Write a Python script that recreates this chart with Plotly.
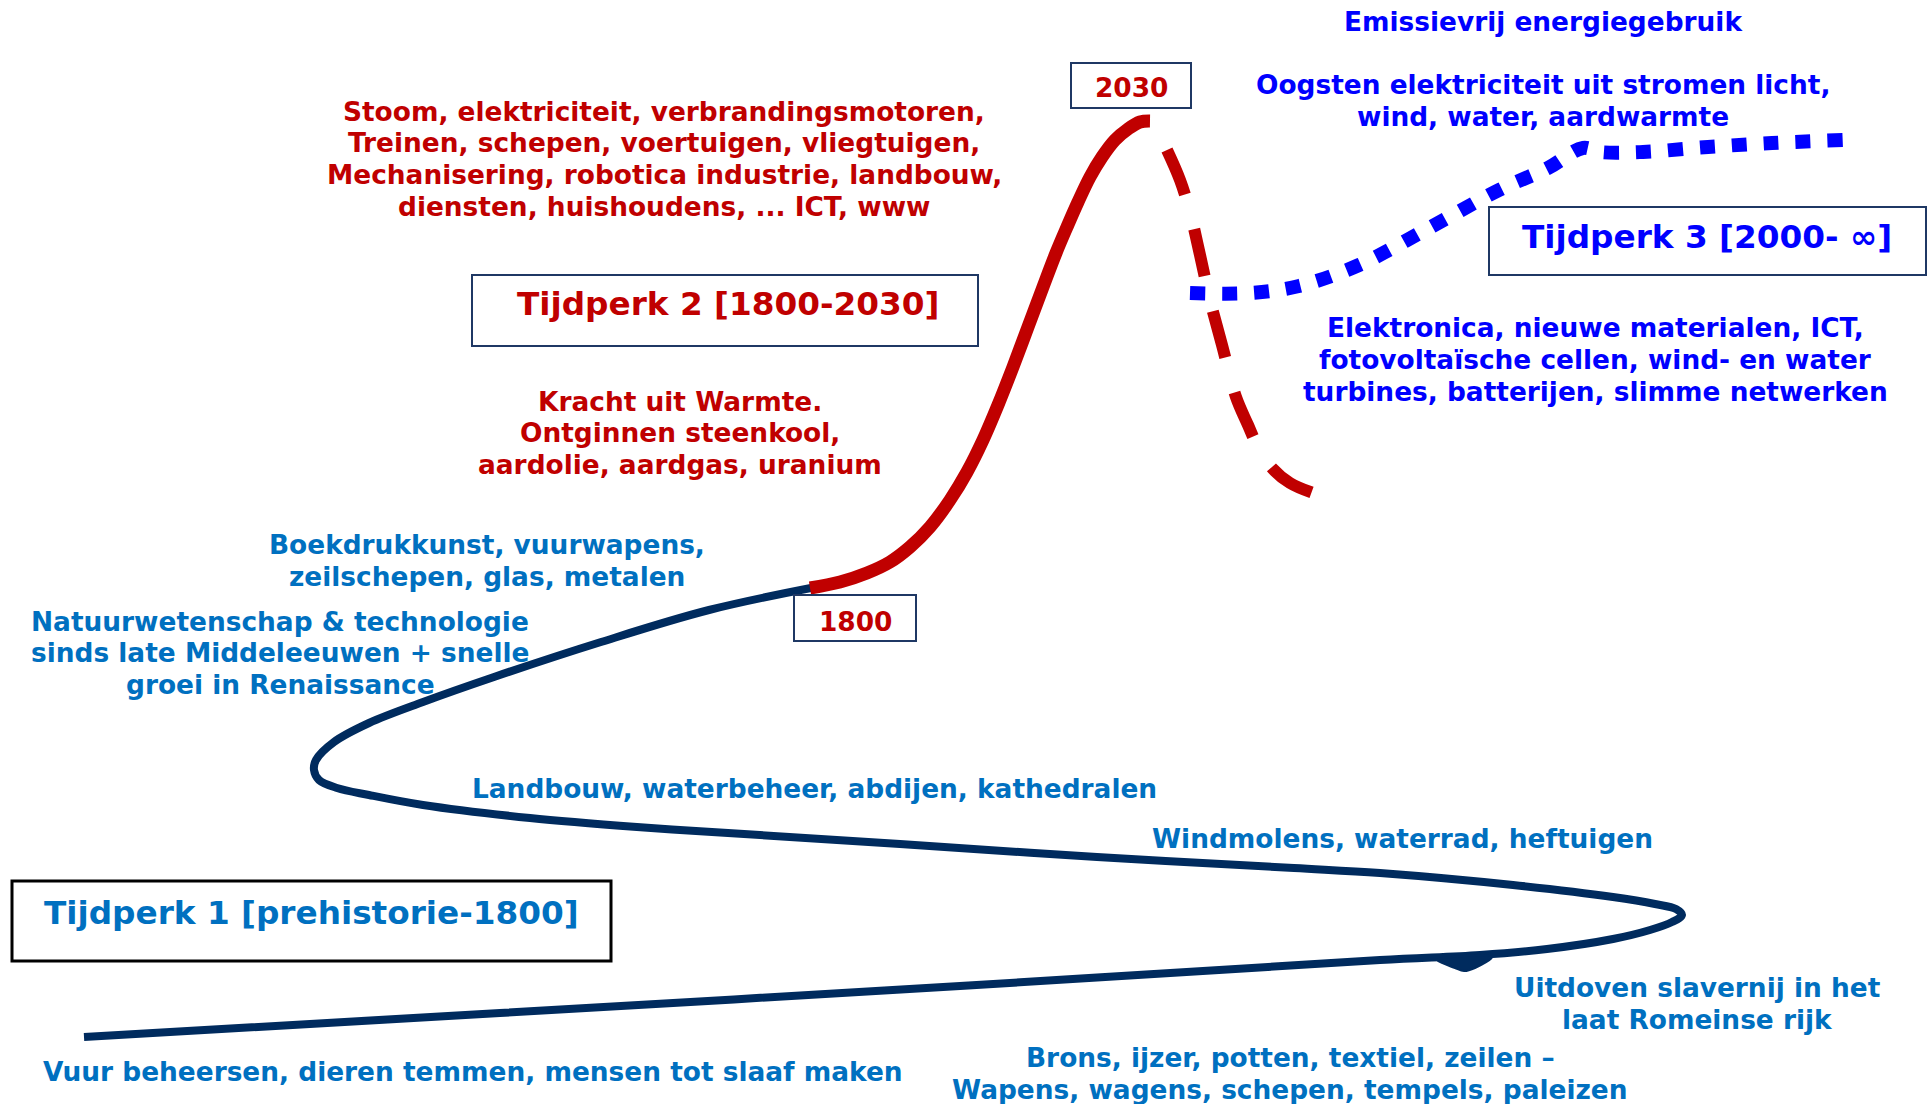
import plotly.graph_objects as go

W, H = 1931, 1104

# ---------------- data (diagram coordinates, pixels, y grows downward) ----------------
era1_x = [84, 500, 960, 1380, 1480, 1547, 1613, 1650, 1672, 1682, 1676, 1655, 1613, 1513, 1380, 1294,
          1097, 900, 744, 637, 530, 423, 369, 337, 319, 314, 316, 334, 369, 423, 494, 601,
          709, 816]
era1_y = [1037, 1013, 986, 960, 955, 949, 939, 930, 922, 915, 909, 904, 897, 885, 873, 868,
          857, 844, 834, 827, 818, 805, 795, 788, 780, 770, 760, 742, 723, 702, 677, 642,
          610, 587]

# small arrow-like bulge under the lower branch
bulge_x = [1437, 1455, 1464, 1475, 1492, 1437]
bulge_y = [960, 968, 971, 968, 957, 960]

era2_x = [810, 840, 867, 890, 910, 930, 950, 967, 983, 998, 1013, 1028, 1043, 1056, 1067, 1078,
          1090, 1102, 1115, 1128, 1140, 1150]
era2_y = [588, 582, 573, 562, 547, 527, 500, 472, 440, 405, 367, 327, 287, 253, 227, 202,
          177, 157, 140, 129, 122, 121]

decline_x = [1167, 1180, 1190, 1200, 1210, 1222, 1236, 1248, 1258, 1272, 1290, 1313]
decline_y = [150, 180, 212, 255, 300, 345, 397, 425, 447, 468, 483, 493]

era3_x = [1190, 1250, 1299, 1359, 1429, 1499, 1548, 1583, 1600, 1643, 1708, 1772, 1843]
era3_y = [293, 293, 286, 265, 228, 190, 168, 148, 152, 152, 147, 143, 140]

# ---------------- texts ----------------
red_top_lines = ["Stoom, elektriciteit, verbrandingsmotoren,",
                 "Treinen, schepen, voertuigen, vliegtuigen,",
                 "Mechanisering, robotica industrie, landbouw,",
                 "diensten, huishoudens, ... ICT, www"]
red_mid_lines = ["Kracht uit Warmte.", "Ontginnen steenkool,", "aardolie, aardgas, uranium"]
boek_lines = ["Boekdrukkunst, vuurwapens,", "zeilschepen, glas, metalen"]
natuur_lines = ["Natuurwetenschap & technologie", "sinds late Middeleeuwen + snelle",
                "groei in Renaissance"]
landbouw_lines = ["Landbouw, waterbeheer, abdijen, kathedralen"]
wind_lines = ["Windmolens, waterrad, heftuigen"]
vuur_lines = ["Vuur beheersen, dieren temmen, mensen tot slaaf maken"]
uitdoven_lines = ["Uitdoven slavernij in het", "laat Romeinse rijk"]
brons_lines = ["Brons, ijzer, potten, textiel, zeilen \u2013",
               "Wapens, wagens, schepen, tempels, paleizen"]
emissie_lines = ["Emissievrij energiegebruik"]
oogsten_lines = ["Oogsten elektriciteit uit stromen licht,", "wind, water, aardwarmte"]
elektro_lines = ["Elektronica, nieuwe materialen, ICT,",
                 "fotovolta\u00efsche cellen, wind- en water",
                 "turbines, batterijen, slimme netwerken"]

era_titles = ["Tijdperk 1 [prehistorie-1800]", "Tijdperk 2 [1800-2030]", "Tijdperk 3 [2000- \u221e]"]
year_labels = ["1800", "2030"]

# ---------------- styling ----------------
RED = "#C00000"
NAVY = "#002B5E"
LBLUE = "#0070C0"
BLUE = "#0000FF"
BOXC = "#1F3864"
FONT = "Verdana, DejaVu Sans, sans-serif"
FS = 26.4
LS = 32

fig = go.Figure()

fig.add_trace(go.Scatter(x=era1_x, y=era1_y, mode="lines",
                         line=dict(color=NAVY, width=8, shape="spline", smoothing=1.0),
                         hoverinfo="skip"))
fig.add_trace(go.Scatter(x=bulge_x, y=bulge_y, mode="lines", fill="toself",
                         fillcolor=NAVY, line=dict(color=NAVY, width=2, shape="spline"),
                         hoverinfo="skip"))
fig.add_trace(go.Scatter(x=era2_x, y=era2_y, mode="lines",
                         line=dict(color=RED, width=13, shape="spline", smoothing=1.0),
                         hoverinfo="skip"))
fig.add_trace(go.Scatter(x=decline_x, y=decline_y, mode="lines",
                         line=dict(color=RED, width=12, shape="spline", smoothing=1.0,
                                   dash="48px,36px"),
                         hoverinfo="skip"))
fig.add_trace(go.Scatter(x=era3_x, y=era3_y, mode="lines",
                         line=dict(color=BLUE, width=14, shape="spline", smoothing=1.0,
                                   dash="15px,17px"),
                         hoverinfo="skip"))


def block(lines, cx, y0, color, size=FS, spacing=LS):
    for i, t in enumerate(lines):
        fig.add_annotation(x=cx, y=y0 + i * spacing, text=t, showarrow=False,
                           xanchor="center", yanchor="middle",
                           font=dict(family=FONT, size=size, color=color, weight="bold"))


block(red_top_lines, 664, 111, RED, spacing=31.7)
block(red_mid_lines, 680, 401, RED, spacing=31.5)
block(boek_lines, 487, 544, LBLUE)
block(natuur_lines, 280, 621, LBLUE, spacing=31.5)
block(landbouw_lines, 814, 788, LBLUE)
block(wind_lines, 1402, 838, LBLUE)
block(vuur_lines, 473, 1071, LBLUE)
block(uitdoven_lines, 1697, 987, LBLUE)
block(brons_lines, 1290, 1057, LBLUE)
block(emissie_lines, 1543, 21, BLUE)
block(oogsten_lines, 1543, 84, BLUE)
block(elektro_lines, 1595, 327, BLUE)

# era title boxes
TS = 32.7
boxes = [
    (12, 881, 611, 961, "black", 3, era_titles[0], 311, 913, LBLUE, TS),
    (472, 275, 978, 346, BOXC, 2, era_titles[1], 728, 304, RED, TS),
    (1489, 207, 1926, 275, BOXC, 2, era_titles[2], 1707, 237, BLUE, TS),
    (794, 595, 916, 641, BOXC, 2, year_labels[0], 855, 621, RED, FS),
    (1071, 63, 1191, 108, BOXC, 2, year_labels[1], 1131, 87, RED, FS),
]
for x0, y0, x1, y1, bc, bw, txt, tx, ty, tc, ts in boxes:
    fig.add_shape(type="rect", x0=x0, y0=y0, x1=x1, y1=y1, xref="x", yref="y",
                  line=dict(color=bc, width=bw), fillcolor="rgba(0,0,0,0)")
    block([txt], tx, ty, tc, size=ts)

fig.update_layout(
    width=W, height=H,
    margin=dict(l=0, r=0, t=0, b=0),
    paper_bgcolor="white", plot_bgcolor="white",
    showlegend=False,
    xaxis=dict(range=[0, W], visible=False, fixedrange=True),
    yaxis=dict(range=[H, 0], visible=False, fixedrange=True),
)

fig.write_html("out.html", config={"displayModeBar": False},
               post_script="document.body.style.margin='0';document.body.style.overflow='hidden';")
